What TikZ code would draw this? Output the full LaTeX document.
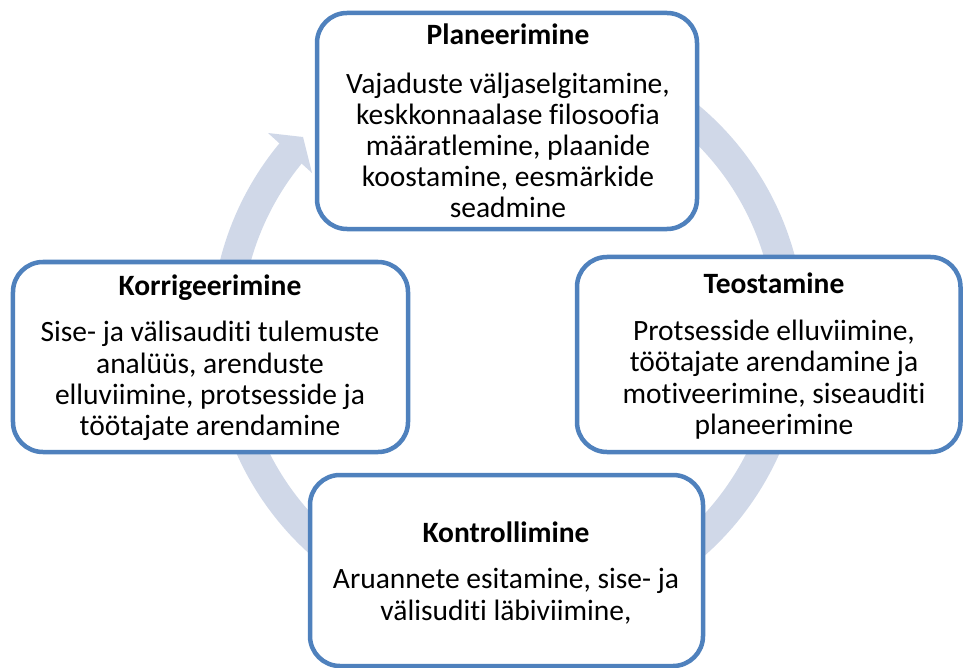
\documentclass[tikz,border=0pt]{standalone}
\usepackage{fontspec}
\setmainfont[Ligatures={NoCommon}]{Carlito}
\definecolor{boxblue}{RGB}{79,129,189}
\definecolor{ringcol}{RGB}{208,216,232}
\begin{document}
\begin{tikzpicture}[x=1bp,y=-1bp,
  stage/.style={draw=boxblue, line width=4.5bp, fill=white, rounded corners=30bp, inner sep=0pt, outer sep=0pt},
  ttl/.style={anchor=base, inner sep=0pt, font=\fontsize{29.5bp}{31bp}\selectfont\bfseries},
  txt/.style={anchor=base, inner sep=0pt, font=\fontsize{29.5bp}{31bp}\selectfont},
  ring/.style={draw=ringcol, line width=30bp},
  ringhead/.style={fill=ringcol}]
\useasboundingbox (0,0) rectangle (963,668);
\clip (0,0) rectangle (963,668);
% circular arrow
\coordinate (c) at (508,333);
\coordinate (hw1) at (268,133);
\coordinate (htip) at (303,137);
\coordinate (hw2) at (312,173);
\draw[ring] ([shift={(60:282bp)}]c) arc[start angle=60, end angle=-220.3, radius=282bp];
\fill[ringhead] (hw1) -- (htip) -- (hw2) -- cycle;
% boxes
\node[stage, minimum width=380bp, minimum height=216bp] (plan) at (507,121) {};
\node[stage, minimum width=395bp, minimum height=190bp] (korr) at (210.5,357) {};
\node[stage, minimum width=383.5bp, minimum height=195bp] (teos) at (768.75,354.5) {};
\node[stage, minimum width=393bp, minimum height=191bp] (kont) at (506.5,570.5) {};
% texts: Planeerimine
\node[ttl] (plan-t) at (508,45) {Planeerimine};
\node[txt] (plan-1) at (508,93.3) {Vajaduste väljaselgitamine,};
\node[txt] (plan-2) at (508,124.3) {keskkonnaalase filosoofia};
\node[txt] (plan-3) at (508,155.3) {määratlemine, plaanide};
\node[txt] (plan-4) at (508,186.3) {koostamine, eesmärkide};
\node[txt] (plan-5) at (508,217.3) {seadmine};
% Korrigeerimine
\node[ttl] (korr-t) at (210,295) {Korrigeerimine};
\node[txt] (korr-1) at (210,341.7) {Sise- ja välisauditi tulemuste};
\node[txt] (korr-2) at (210,373) {analüüs, arenduste};
\node[txt] (korr-3) at (210,404.3) {elluviimine, protsesside ja};
\node[txt] (korr-4) at (210,435.6) {töötajate arendamine};
% Teostamine
\node[ttl] (teos-t) at (774,293.3) {Teostamine};
\node[txt] (teos-1) at (774,340) {Protsesside elluviimine,};
\node[txt] (teos-2) at (774,371.5) {töötajate arendamine ja};
\node[txt] (teos-3) at (774,403) {motiveerimine, siseauditi};
\node[txt] (teos-4) at (774,434.5) {planeerimine};
% Kontrollimine
\node[ttl] (kont-t) at (506,542.7) {Kontrollimine};
\node[txt] (kont-1) at (506,588.3) {Aruannete esitamine, sise- ja};
\node[txt] (kont-2) at (506,620) {välisuditi läbiviimine,};
\end{tikzpicture}
\end{document}
